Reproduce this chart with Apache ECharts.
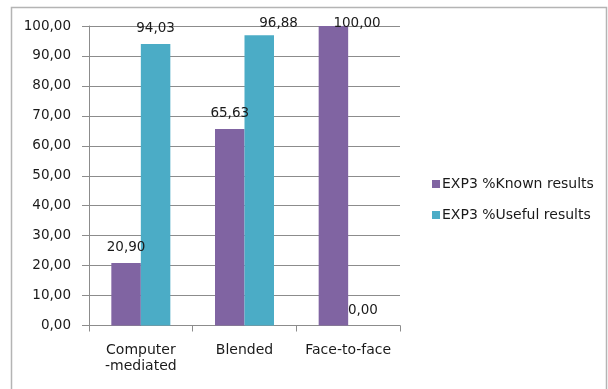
<!DOCTYPE html>
<html>
<head>
<meta charset="utf-8">
<script src="https://cdn.jsdelivr.net/npm/echarts@6/dist/echarts.min.js"></script>
<style>
html, body { margin: 0; padding: 0; background: #fff; }
#chart { width: 608px; height: 389px; }
</style>
</head>
<body>
<div id="chart"></div>
<script>
// Learning modes on the category axis
const categories = ['Computer\n-mediated', 'Blended', 'Face-to-face'];
// Percentages per mode
const knownResults = [20.90, 65.63, 100.00];
const usefulResults = [94.03, 96.88, 0.00];
const seriesNames = ['EXP3 %Known results', 'EXP3 %Useful results'];
const yTicks = { min: 0, max: 100, interval: 10 };

const fmt = v => Number(v).toFixed(2).replace('.', ',');
const FONT = 'DejaVu Sans';
const TXT = '#1a1a1a';
const LABEL_MIN_TOP = 16; // keep value labels inside the chart frame

const chart = echarts.init(document.getElementById('chart'), null, { renderer: 'canvas' });

const labelCfg = {
  show: true,
  position: 'top',
  distance: 8,
  color: TXT,
  fontFamily: FONT,
  fontSize: 13.5,
  formatter: p => fmt(p.value)
};

// Push labels that would poke above the plot back down
const clampLabel = params => {
  const r = params.labelRect;
  if (r.y < LABEL_MIN_TOP) {
    return { y: LABEL_MIN_TOP, verticalAlign: 'top' };
  }
  return {};
};

chart.setOption({
  animation: false,
  backgroundColor: '#fff',
  color: ['#8064A2', '#4BACC6'],
  graphic: [{
    type: 'rect',
    shape: { x: 11.5, y: 7.5, width: 595, height: 400 },
    style: { fill: 'none', stroke: '#b4b4b4', lineWidth: 1.5 },
    silent: true
  }],
  grid: { left: 89, right: 208, top: 26, bottom: 63.5 },
  legend: {
    orient: 'vertical',
    left: 432,
    top: 177,
    padding: 0,
    itemWidth: 8,
    itemHeight: 8,
    itemGap: 17,
    icon: 'rect',
    textStyle: { color: TXT, fontFamily: FONT, fontSize: 14, padding: [0, 0, 0, -3] },
    data: seriesNames
  },
  xAxis: {
    type: 'category',
    data: categories,
    axisLine: { show: true, lineStyle: { color: '#8c8c8c', width: 1 } },
    axisTick: { show: true, length: 6, lineStyle: { color: '#8c8c8c' } },
    axisLabel: {
      interval: 0,
      color: TXT, fontFamily: FONT, fontSize: 14, margin: 17, lineHeight: 16
    }
  },
  yAxis: {
    type: 'value',
    min: yTicks.min,
    max: yTicks.max,
    interval: yTicks.interval,
    axisLine: { show: true, lineStyle: { color: '#8c8c8c', width: 1 } },
    axisTick: { show: true, length: 7, lineStyle: { color: '#8c8c8c' } },
    splitLine: { show: true, lineStyle: { color: '#8c8c8c', width: 1 } },
    axisLabel: {
      color: TXT, fontFamily: FONT, fontSize: 13.5, margin: 18,
      formatter: v => fmt(v)
    }
  },
  series: [
    {
      name: seriesNames[0],
      type: 'bar',
      data: knownResults,
      barWidth: 29.5,
      barGap: '0%',
      label: labelCfg,
      labelLayout: clampLabel
    },
    {
      name: seriesNames[1],
      type: 'bar',
      data: usefulResults,
      barWidth: 29.5,
      barGap: '0%',
      label: labelCfg,
      labelLayout: clampLabel
    }
  ]
});
</script>
</body>
</html>
